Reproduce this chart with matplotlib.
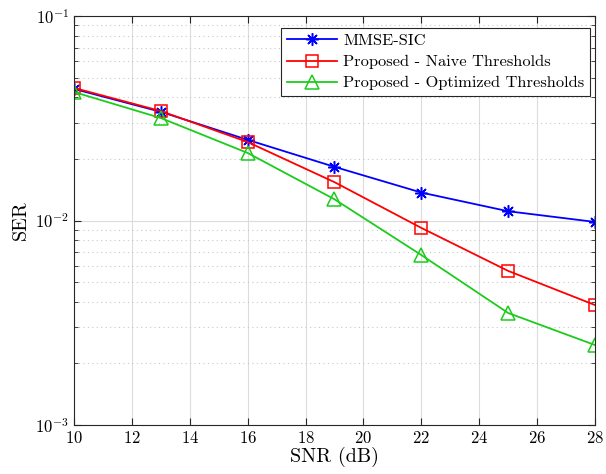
import matplotlib
matplotlib.use('Agg')
import matplotlib.pyplot as plt
from matplotlib.ticker import LogLocator, NullFormatter

plt.rcParams['font.family'] = ['cmr10', 'DejaVu Serif']
plt.rcParams['mathtext.fontset'] = 'cm'
plt.rcParams['axes.formatter.use_mathtext'] = True

snr = [10, 13, 16, 19, 22, 25, 28]
ser_mmse = [0.0440, 0.0340, 0.0248, 0.0183, 0.0137, 0.0111, 0.00984]
ser_naive = [0.0445, 0.0343, 0.0242, 0.0154, 0.00920, 0.00567, 0.00386]
ser_opt = [0.0425, 0.0317, 0.0214, 0.0127, 0.00678, 0.00353, 0.00246]

fig = plt.figure(figsize=(6.06, 4.74), dpi=100)
ax = fig.add_axes([0.1221, 0.1034, 0.8597, 0.8628])

ax.semilogy(snr, ser_mmse, '-', color='#0000ff', lw=1.3, marker=(8, 2, 0),
            ms=9, mew=1.1, label='MMSE-SIC')
ax.semilogy(snr, ser_naive, '-', color='#ff0000', lw=1.3, marker='s',
            ms=8, mfc='none', mew=1.1, label='Proposed - Naive Thresholds')
ax.semilogy(snr, ser_opt, '-', color='#1ccc1c', lw=1.3, marker='^',
            ms=10, mfc='none', mew=1.1, label='Proposed - Optimized Thresholds')

ax.set_xlim(10, 28)
ax.set_ylim(1e-3, 1e-1)
ax.set_xticks(range(10, 29, 2))
ax.yaxis.set_major_locator(LogLocator(base=10, numticks=10))
ax.yaxis.set_minor_locator(LogLocator(base=10, subs=range(2, 10), numticks=10))
ax.yaxis.set_minor_formatter(NullFormatter())

ax.grid(True, which='major', color='#dcdcdc', lw=0.8, ls='-')
ax.grid(True, which='minor', axis='y', color='#c8c8c8', lw=0.8, ls=(0, (1, 3)))
ax.set_axisbelow(True)

ax.tick_params(which='both', direction='in', top=True, right=True,
               labelsize=12, color='#262626')
ax.tick_params(which='major', length=5)
ax.tick_params(which='minor', length=3)
for s in ax.spines.values():
    s.set_color('#262626')
    s.set_linewidth(0.8)

ax.set_xlabel('SNR (dB)', fontsize=14.5, labelpad=1)
ax.set_ylabel('SER', fontsize=14.5, labelpad=4)

leg = ax.legend(loc='upper right', bbox_to_anchor=(0.9904, 0.9707),
                fontsize=11.8, fancybox=False, framealpha=1,
                edgecolor='#262626', borderpad=0.35, labelspacing=0.4,
                handlelength=3.1, handletextpad=0.35, borderaxespad=0)
leg.get_frame().set_linewidth(0.8)

fig.savefig('out.png', dpi=100)
